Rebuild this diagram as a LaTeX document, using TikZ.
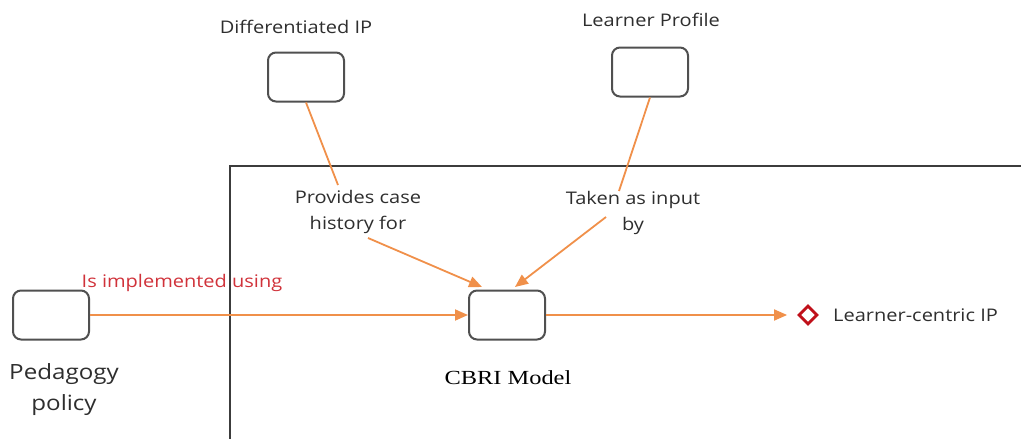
\documentclass[tikz,border=0pt]{standalone}
\usepackage{fontspec}
\setmainfont{Open Sans}[FakeStretch=1.15]
\newfontfamily\cbrifont{Liberation Serif}[FakeStretch=1.22]
\usetikzlibrary{arrows.meta,calc,shapes.geometric}
\definecolor{edgeorange}{HTML}{F0904A}
\definecolor{boxgray}{HTML}{505050}
\definecolor{framegray}{HTML}{3C3C3C}
\definecolor{txtgray}{HTML}{2E2E2E}
\definecolor{linkred}{HTML}{D0323A}
\definecolor{markred}{HTML}{C0101A}
\tikzset{
  conceptbox/.style={draw=boxgray, line width=2pt, rounded corners=8pt,
    minimum width=76pt, minimum height=49pt, inner sep=0pt},
  conn/.style={draw=edgeorange, line width=1.8pt},
  connarrow/.style={conn, -{Triangle[length=13pt,width=11pt]}},
  lbl/.style={text=txtgray, font=\fontsize{17.4}{26}\selectfont, align=center, inner sep=1pt},
}
\begin{document}
\begin{tikzpicture}[x=1pt,y=-1pt]
\useasboundingbox (0,0) rectangle (1021,439);

% boundary of the model
\draw[framegray, line width=1.8pt] (230,439) |- (1021,166);

% concept boxes
\node[conceptbox] (dip) at (306,77) {};
\node[conceptbox] (lp) at (650,72) {};
\node[conceptbox] (ped) at (51,315) {};
\node[conceptbox] (cbri) at (507,315) {};
\node[diamond, draw=markred, line width=2.8pt, minimum width=19pt, minimum height=19pt, inner sep=0pt] (out) at (808,315) {};

% captions
\node[lbl] (dipl) at (296,27) {Differentiated IP};
\node[lbl] (lpl) at (651,20) {Learner Profile};
\node[lbl, font=\fontsize{21}{31}\selectfont] (pedl) at (64,390) {Pedagogy\\policy};
\node[text=black, font=\cbrifont\fontsize{20}{22}\selectfont, inner sep=1pt] (cbril) at (508,378) {CBRI Model};
\node[lbl, anchor=west] (outl) at (832,315) {Learner-centric IP};

% relation labels
\node[lbl] (lab1) at (358,212) {Provides case\\history for};
\node[lbl] (lab2) at (633,213) {Taken as input\\by};
\node[lbl, text=linkred] (impl) at (182,283) {Is implemented using};

% relations
\draw[conn] (dip.south) -- ($(lab1.center)+(-20,-27)$);
\draw[connarrow] ($(lab1.center)+(10,26)$) -- ($(cbri.center)+(-25,-28)$);
\draw[conn] (lp.south) -- ($(lab2.center)+(-14,-22)$);
\draw[connarrow] ($(lab2.center)+(-27,4)$) -- ($(cbri.center)+(8,-28)$);
\draw[connarrow] (ped.east) -- (cbri.west);
\draw[connarrow, shorten >=10pt] (cbri.east) -- (out.west);
\end{tikzpicture}
\end{document}
